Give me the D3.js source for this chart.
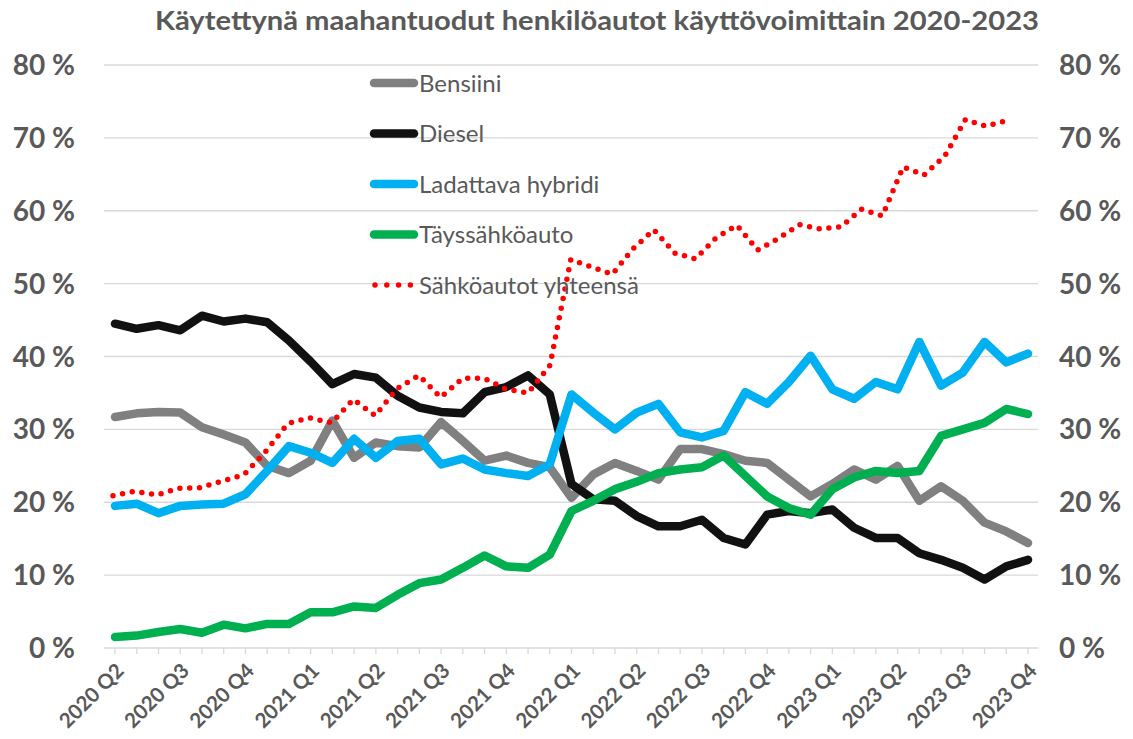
<!DOCTYPE html>
<html>
<head>
<meta charset="utf-8">
<script src="https://cdn.jsdelivr.net/npm/d3@7"></script>
<style>
  body { margin: 0; background: #fff; }
  text { font-family: Lato, "Open Sans", sans-serif; fill: #595959; }
</style>
</head>
<body>
<script>
// Tick labels, one every third category
const quarterLabels = ["2020 Q2", "2020 Q3", "2020 Q4", "2021 Q1", "2021 Q2", "2021 Q3", "2021 Q4",
  "2022 Q1", "2022 Q2", "2022 Q3", "2022 Q4", "2023 Q1", "2023 Q2", "2023 Q3", "2023 Q4"];
const yTicks = [0, 10, 20, 30, 40, 50, 60, 70, 80];

// Series (%)
const bensiini = [31.7, 32.2, 32.4, 32.3, 30.3, 29.3, 28.2, 25.0, 24.0, 25.7, 31.2, 26.1, 28.2, 27.7, 27.5,
  31.0, 28.4, 25.7, 26.4, 25.4, 24.8, 20.6, 23.8, 25.4, 24.3, 23.1, 27.3, 27.3, 26.6, 25.7, 25.4,
  23.1, 20.8, 22.5, 24.5, 23.1, 25.0, 20.2, 22.2, 20.2, 17.2, 16.0, 14.4];
const diesel = [44.5, 43.8, 44.3, 43.6, 45.6, 44.8, 45.2, 44.7, 42.2, 39.3, 36.2, 37.6, 37.1, 34.6, 33.0,
  32.4, 32.2, 35.1, 35.8, 37.4, 34.8, 22.5, 20.4, 20.2, 18.1, 16.7, 16.7, 17.6, 15.1, 14.2, 18.3,
  18.8, 18.5, 19.0, 16.5, 15.1, 15.1, 13.0, 12.1, 11.0, 9.4, 11.2, 12.1];
const hybridi = [19.5, 19.8, 18.5, 19.5, 19.7, 19.8, 21.1, 24.3, 27.7, 26.8, 25.4, 28.7, 26.1, 28.4, 28.7,
  25.2, 26.0, 24.5, 24.0, 23.6, 25.2, 34.8, 32.3, 30.0, 32.3, 33.5, 29.6, 28.9, 29.8, 35.1, 33.5,
  36.5, 40.1, 35.5, 34.2, 36.5, 35.5, 42.0, 36.0, 37.8, 42.0, 39.2, 40.4];
const taysahko = [1.5, 1.7, 2.2, 2.6, 2.1, 3.2, 2.7, 3.3, 3.3, 4.9, 4.9, 5.7, 5.5, 7.3, 8.9,
  9.4, 11.0, 12.7, 11.2, 11.0, 12.8, 18.8, 20.2, 21.8, 22.8, 24.0, 24.5, 24.8, 26.4, 23.6, 20.8,
  19.2, 18.3, 21.8, 23.4, 24.3, 24.0, 24.3, 29.1, 30.0, 30.9, 32.8, 32.1];
const sahkoYht = [20.9, 21.5, 21.0, 21.9, 22.0, 22.9, 23.8, 27.0, 30.8, 31.6, 30.9, 34.1, 31.9, 35.6, 37.4,
  34.4, 37.0, 37.0, 35.5, 35.0, 38.8, 53.3, 52.3, 51.3, 54.8, 57.4, 54.2, 53.4, 56.3, 58.0, 54.6,
  56.2, 58.1, 57.5, 57.8, 60.2, 59.3, 66.0, 64.9, 67.5, 72.5, 71.6, 72.4];

const seriesNames = ["Bensiini", "Diesel", "Ladattava hybridi", "Täyssähköauto", "Sähköautot yhteensä"];
const seriesColors = ["#808080", "#111111", "#00b0f0", "#00b050", "#ff0000"];

const width = 1133, height = 739;
const plot = { left: 104, right: 1038, top: 65, bottom: 648 };
const n = diesel.length;

const svg = d3.select("body").append("svg")
    .attr("width", width)
    .attr("height", height);

// Scales
const x = d3.scaleLinear().domain([0, n - 1]).range([115, 1028]);
// secondary (hidden) x axis used by the total series
const x2 = d3.scaleLinear().domain([0, 20, n - 1]).range([113, 550, 1007]);
const y = d3.scaleLinear().domain([0, 80]).range([plot.bottom, plot.top]);

// Title
svg.append("text")
    .attr("x", 597)
    .attr("y", 30)
    .attr("text-anchor", "middle")
    .attr("font-size", 27)
    .attr("font-weight", "bold")
    .attr("textLength", 884)
    .attr("lengthAdjust", "spacingAndGlyphs")
    .text("Käytettynä maahantuodut henkilöautot käyttövoimittain 2020-2023");

// Gridlines
svg.append("g")
    .selectAll("line")
    .data(yTicks.filter(d => d > 0))
    .join("line")
    .attr("x1", plot.left).attr("x2", plot.right)
    .attr("y1", d => y(d)).attr("y2", d => y(d))
    .attr("stroke", "#d9d9d9")
    .attr("stroke-width", 1.3);

// Left and right axis labels
const yLabels = svg.append("g");
yLabels.selectAll("text.left")
    .data(yTicks)
    .join("text")
    .attr("class", "left")
    .attr("x", 75)
    .attr("y", d => y(d))
    .attr("dy", "0.36em")
    .attr("text-anchor", "end")
    .attr("font-size", 28)
    .attr("font-weight", "bold")
    .text(d => d + " %");
yLabels.selectAll("text.right")
    .data(yTicks)
    .join("text")
    .attr("class", "right")
    .attr("x", 1059)
    .attr("y", d => y(d))
    .attr("dy", "0.36em")
    .attr("text-anchor", "start")
    .attr("font-size", 28)
    .attr("font-weight", "bold")
    .text(d => d + " %");

// X axis line, ticks, labels
const xAxis = svg.append("g");
xAxis.append("line")
    .attr("x1", plot.left).attr("x2", plot.right)
    .attr("y1", plot.bottom).attr("y2", plot.bottom)
    .attr("stroke", "#d9d9d9")
    .attr("stroke-width", 1.3);
xAxis.selectAll("line.tick")
    .data(d3.range(n))
    .join("line")
    .attr("class", "tick")
    .attr("x1", d => x(d)).attr("x2", d => x(d))
    .attr("y1", plot.bottom).attr("y2", plot.bottom + 6)
    .attr("stroke", "#d9d9d9")
    .attr("stroke-width", 1.3);
xAxis.selectAll("text")
    .data(quarterLabels)
    .join("text")
    .attr("transform", (d, i) => `translate(${x(i * 3) + 5}, ${plot.bottom + 19}) rotate(-45)`)
    .attr("text-anchor", "end")
    .attr("dy", "0.35em")
    .attr("font-size", 20.5)
    .attr("font-weight", "bold")
    .text(d => d);

// Lines
const line = d3.line().x((d, i) => x(i)).y(d => y(d));
const line2 = d3.line().x((d, i) => x2(i)).y(d => y(d));
const mainSeries = [bensiini, diesel, hybridi, taysahko];

svg.append("g")
    .selectAll("path")
    .data(mainSeries)
    .join("path")
    .attr("d", d => line(d))
    .attr("fill", "none")
    .attr("stroke", (d, i) => seriesColors[i])
    .attr("stroke-width", 8.5)
    .attr("stroke-linejoin", "round")
    .attr("stroke-linecap", "round");

svg.append("path")
    .attr("d", line2(sahkoYht))
    .attr("fill", "none")
    .attr("stroke", seriesColors[4])
    .attr("stroke-width", 5.5)
    .attr("stroke-dasharray", "0 9.8")
    .attr("stroke-linecap", "round");

// Legend
const legend = svg.append("g");
const legendY = d3.scaleLinear().domain([0, 4]).range([83, 285]);
seriesNames.forEach((name, i) => {
  const ly = legendY(i);
  const s = legend.append("line")
      .attr("x1", 374).attr("x2", 414)
      .attr("y1", ly).attr("y2", ly)
      .attr("stroke", seriesColors[i])
      .attr("stroke-linecap", "round");
  if (i === 4) {
    s.attr("x1", 375).attr("x2", 411)
      .attr("stroke-width", 5.5)
      .attr("stroke-dasharray", "0 11.8");
  } else {
    s.attr("stroke-width", 8.5);
  }
  legend.append("text")
      .attr("x", 419)
      .attr("y", ly)
      .attr("dy", "0.36em")
      .attr("font-size", 24)
      .text(name);
});
</script>
</body>
</html>
